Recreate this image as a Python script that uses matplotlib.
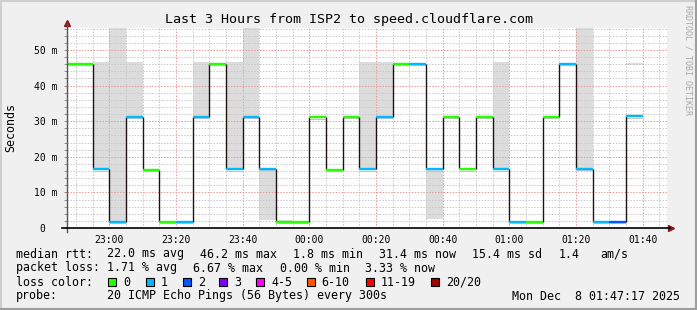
import matplotlib
matplotlib.use("Agg")
import matplotlib.pyplot as plt
from matplotlib.lines import Line2D
from matplotlib.patches import Rectangle
import numpy as np

# ---------------- data ----------------
bin_end = ["22:50", "22:55", "23:00", "23:05", "23:10", "23:15", "23:20", "23:25", "23:30", "23:35",
           "23:40", "23:45", "23:50", "23:55", "00:00", "00:05", "00:10", "00:15", "00:20",
           "00:25", "00:30", "00:35", "00:40", "00:45", "00:50", "00:55", "01:00", "01:05",
           "01:10", "01:15", "01:20", "01:25", "01:30", "01:35", "01:40"]
median_ms = [46.2, 46.2, 16.6, 1.8, 31.3, 16.4, 1.8, 1.8, 31.3, 46.2,
             16.5, 31.3, 16.7, 1.8, 1.8, 31.2, 16.4, 31.3, 16.5,
             31.3, 46.2, 46.2, 16.5, 31.3, 16.5, 31.3, 16.5, 1.8,
             1.8, 31.3, 46.2, 16.7, 1.8, 1.8, 31.4]
loss_idx = [0, 0, 1, 1, 1, 0, 0, 1, 1, 0,
            1, 1, 1, 0, 0, 0, 0, 0, 1,
            1, 0, 1, 1, 0, 0, 0, 1, 1,
            0, 0, 1, 1, 1, 2, 1]
nan = float("nan")
smoke_lo = [nan, nan, 16.6, 1.8, 31.3, nan, nan, nan, 31.3, nan,
            16.5, 31.3, 2.3, 1.8, nan, nan, nan, nan, 16.5,
            31.3, nan, nan, 2.4, nan, nan, nan, 16.5, nan,
            nan, nan, nan, 16.7, nan, nan, 45.9]
smoke_hi = [nan, nan, 46.5, 60.0, 46.7, nan, nan, nan, 46.5, nan,
            46.5, 60.0, 16.7, 2.3, nan, nan, nan, nan, 46.5,
            46.5, nan, nan, 16.5, nan, nan, nan, 46.5, nan,
            nan, nan, nan, 60.0, nan, nan, 46.4]

loss_labels = ["0", "1", "2", "3", "4-5", "6-10", "11-19", "20/20"]
loss_colors = ["#26ff00", "#00b8ff", "#0059ff", "#7e00ff", "#ff00ff", "#ff5500", "#ff0000", "#a10000"]

x_tick_labels = ["23:00", "23:20", "23:40", "00:00", "00:20", "00:40", "01:00", "01:20", "01:40"]
y_ticks = [0, 10, 20, 30, 40, 50]

title = "Last 3 Hours from ISP2 to speed.cloudflare.com"
stats_rtt = [("median rtt:", 16), ("22.0 ms avg", 107.3), ("46.2 ms max", 200), ("1.8 ms min", 293.3),
             ("31.4 ms now", 379.3), ("15.4 ms sd", 472.3), ("1.4", 558.3), ("am/s", 600)]
stats_loss = [("packet loss:", 16), ("1.71 % avg", 107.3), ("6.67 % max", 192.7),
              ("0.00 % min", 280), ("3.33 % now", 365)]
probe_text = "20 ICMP Echo Pings (56 Bytes) every 300s"
date_text = "Mon Dec  8 01:47:17 2025"

# ---------------- helpers ----------------
def to_min(s):
    h, m = map(int, s.split(":"))
    v = h * 60 + m
    if h >= 12:
        v -= 24 * 60
    return v

x_start = to_min("22:47") + 17 / 60.0
x_end = to_min("01:47") + 17 / 60.0
ends = np.array([to_min(s) for s in bin_end], dtype=float)
starts = np.maximum(ends - 5, x_start)
med = np.array(median_ms)

W, H = 697, 310
fig = plt.figure(figsize=(W / 100, H / 100), dpi=100)
fig.patch.set_facecolor("#f0f0f0")

L, R, T, B = 67, 667, 28, 228
ax = fig.add_axes([L / W, 1 - B / H, (R - L) / W, (B - T) / H])
ax.set_facecolor("white")
ax.set_xlim(x_start, x_end)
ax.set_ylim(0, (B - T) / 3.56)
for sp in ax.spines.values():
    sp.set_visible(False)

mono = "DejaVu Sans Mono"

# grid
xt = [to_min(s) for s in x_tick_labels]
ax.set_xticks(xt)
ax.set_xticklabels(x_tick_labels, family=mono, fontsize=7)
ax.set_xticks(np.arange(-70, 106, 5), minor=True)
ax.set_yticks(y_ticks)
ax.set_yticklabels([("%d m" % v) if v else "0  " for v in y_ticks], family=mono, fontsize=7)
ax.set_yticks(np.arange(0, 57, 2), minor=True)
ax.tick_params(axis="y", which="both", length=2, color="#909090", width=0.7)
ax.tick_params(axis="x", which="both", length=0)
ax.tick_params(axis="y", which="major", pad=5)
ax.tick_params(axis="x", which="major", pad=5)
ax.grid(True, which="minor", color="#c8c8c8", linestyle=(0, (1.5, 1.5)), linewidth=0.7)
ax.grid(True, which="major", color="#e89a9a", linestyle=(0, (1.5, 1.5)), linewidth=0.7)

# smoke
for i in range(len(ends)):
    if not np.isnan(smoke_lo[i]):
        ax.fill_between([starts[i], ends[i]], smoke_lo[i], smoke_hi[i],
                        color="#dcdcdc", linewidth=0, zorder=1)

# step connectors
for i in range(len(ends) - 1):
    if med[i] != med[i + 1]:
        ax.vlines(ends[i], min(med[i], med[i + 1]), max(med[i], med[i + 1]),
                  color="#1e1212", linewidth=1.0, zorder=3)

# thin grey line under medians and colored medians
ax.hlines(med - 0.45, starts, ends, colors="#c4c4c4", linewidth=0.8, zorder=2.5)
ax.hlines(med, starts, ends, colors=[loss_colors[k] for k in loss_idx], linewidth=1.7, zorder=4)

# axes with arrows
ax.plot([0, 0], [-0.02, 1.02], transform=ax.transAxes, color="#555555", lw=1.0, clip_on=False, zorder=5)
ax.plot([-0.008, 1.005], [0, 0], transform=ax.transAxes, color="#000000", lw=1.2, clip_on=False, zorder=5)
ax.plot([0], [1.025], marker="^", markersize=4.5, color="#8b1a1a", transform=ax.transAxes, clip_on=False)
ax.plot([1.007], [0], marker=">", markersize=4.5, color="#8b1a1a", transform=ax.transAxes, clip_on=False)

def fx(px):
    return px / W

def fy(py):
    return 1 - py / H

fig.text(fx(349), fy(19), title, family=mono, fontsize=9.6, ha="center", va="center", color="#000000")
fig.text(fx(11), fy(128), "Seconds", family=mono, fontsize=8.4, rotation=90, ha="center", va="center")
fig.text(fx(688), fy(60), "RRDTOOL / TOBI OETIKER", family=mono, fontsize=6, rotation=270,
         ha="center", va="center", color="#a8a8a8")

fs = 8.4
for txt, x in stats_rtt:
    fig.text(fx(x), fy(254), txt, family=mono, fontsize=fs, ha="left", va="center")
for txt, x in stats_loss:
    fig.text(fx(x), fy(268), txt, family=mono, fontsize=fs, ha="left", va="center")
fig.text(fx(16), fy(282), "loss color:", family=mono, fontsize=fs, ha="left", va="center")
box_x = [108.3, 145.7, 182.7, 219.3, 256, 306.7, 365.7, 430.7]
for bx, lab, col in zip(box_x, loss_labels, loss_colors):
    fig.add_artist(Rectangle((fx(bx), fy(286)), 8 / W, 8 / H, facecolor=col, edgecolor="black",
                             linewidth=0.8, transform=fig.transFigure))
    fig.text(fx(bx + 15), fy(282), lab, family=mono, fontsize=fs, ha="left", va="center")
fig.text(fx(16), fy(296), "probe:", family=mono, fontsize=fs, ha="left", va="center")
fig.text(fx(107.3), fy(296), probe_text, family=mono, fontsize=fs, ha="left", va="center")
fig.text(fx(680), fy(296), date_text, family=mono, fontsize=fs, ha="right", va="center")

# 3D frame
fig.add_artist(Line2D([0, 1], [1 - 1 / H, 1 - 1 / H], color="#cfcfcf", lw=1.5, transform=fig.transFigure))
fig.add_artist(Line2D([1 / W, 1 / W], [0, 1], color="#cfcfcf", lw=1.5, transform=fig.transFigure))
fig.add_artist(Line2D([0, 1], [1 / H, 1 / H], color="#9e9e9e", lw=1.5, transform=fig.transFigure))
fig.add_artist(Line2D([1 - 1 / W, 1 - 1 / W], [0, 1], color="#9e9e9e", lw=1.5, transform=fig.transFigure))

fig.savefig("out.png", dpi=100, facecolor=fig.get_facecolor())
